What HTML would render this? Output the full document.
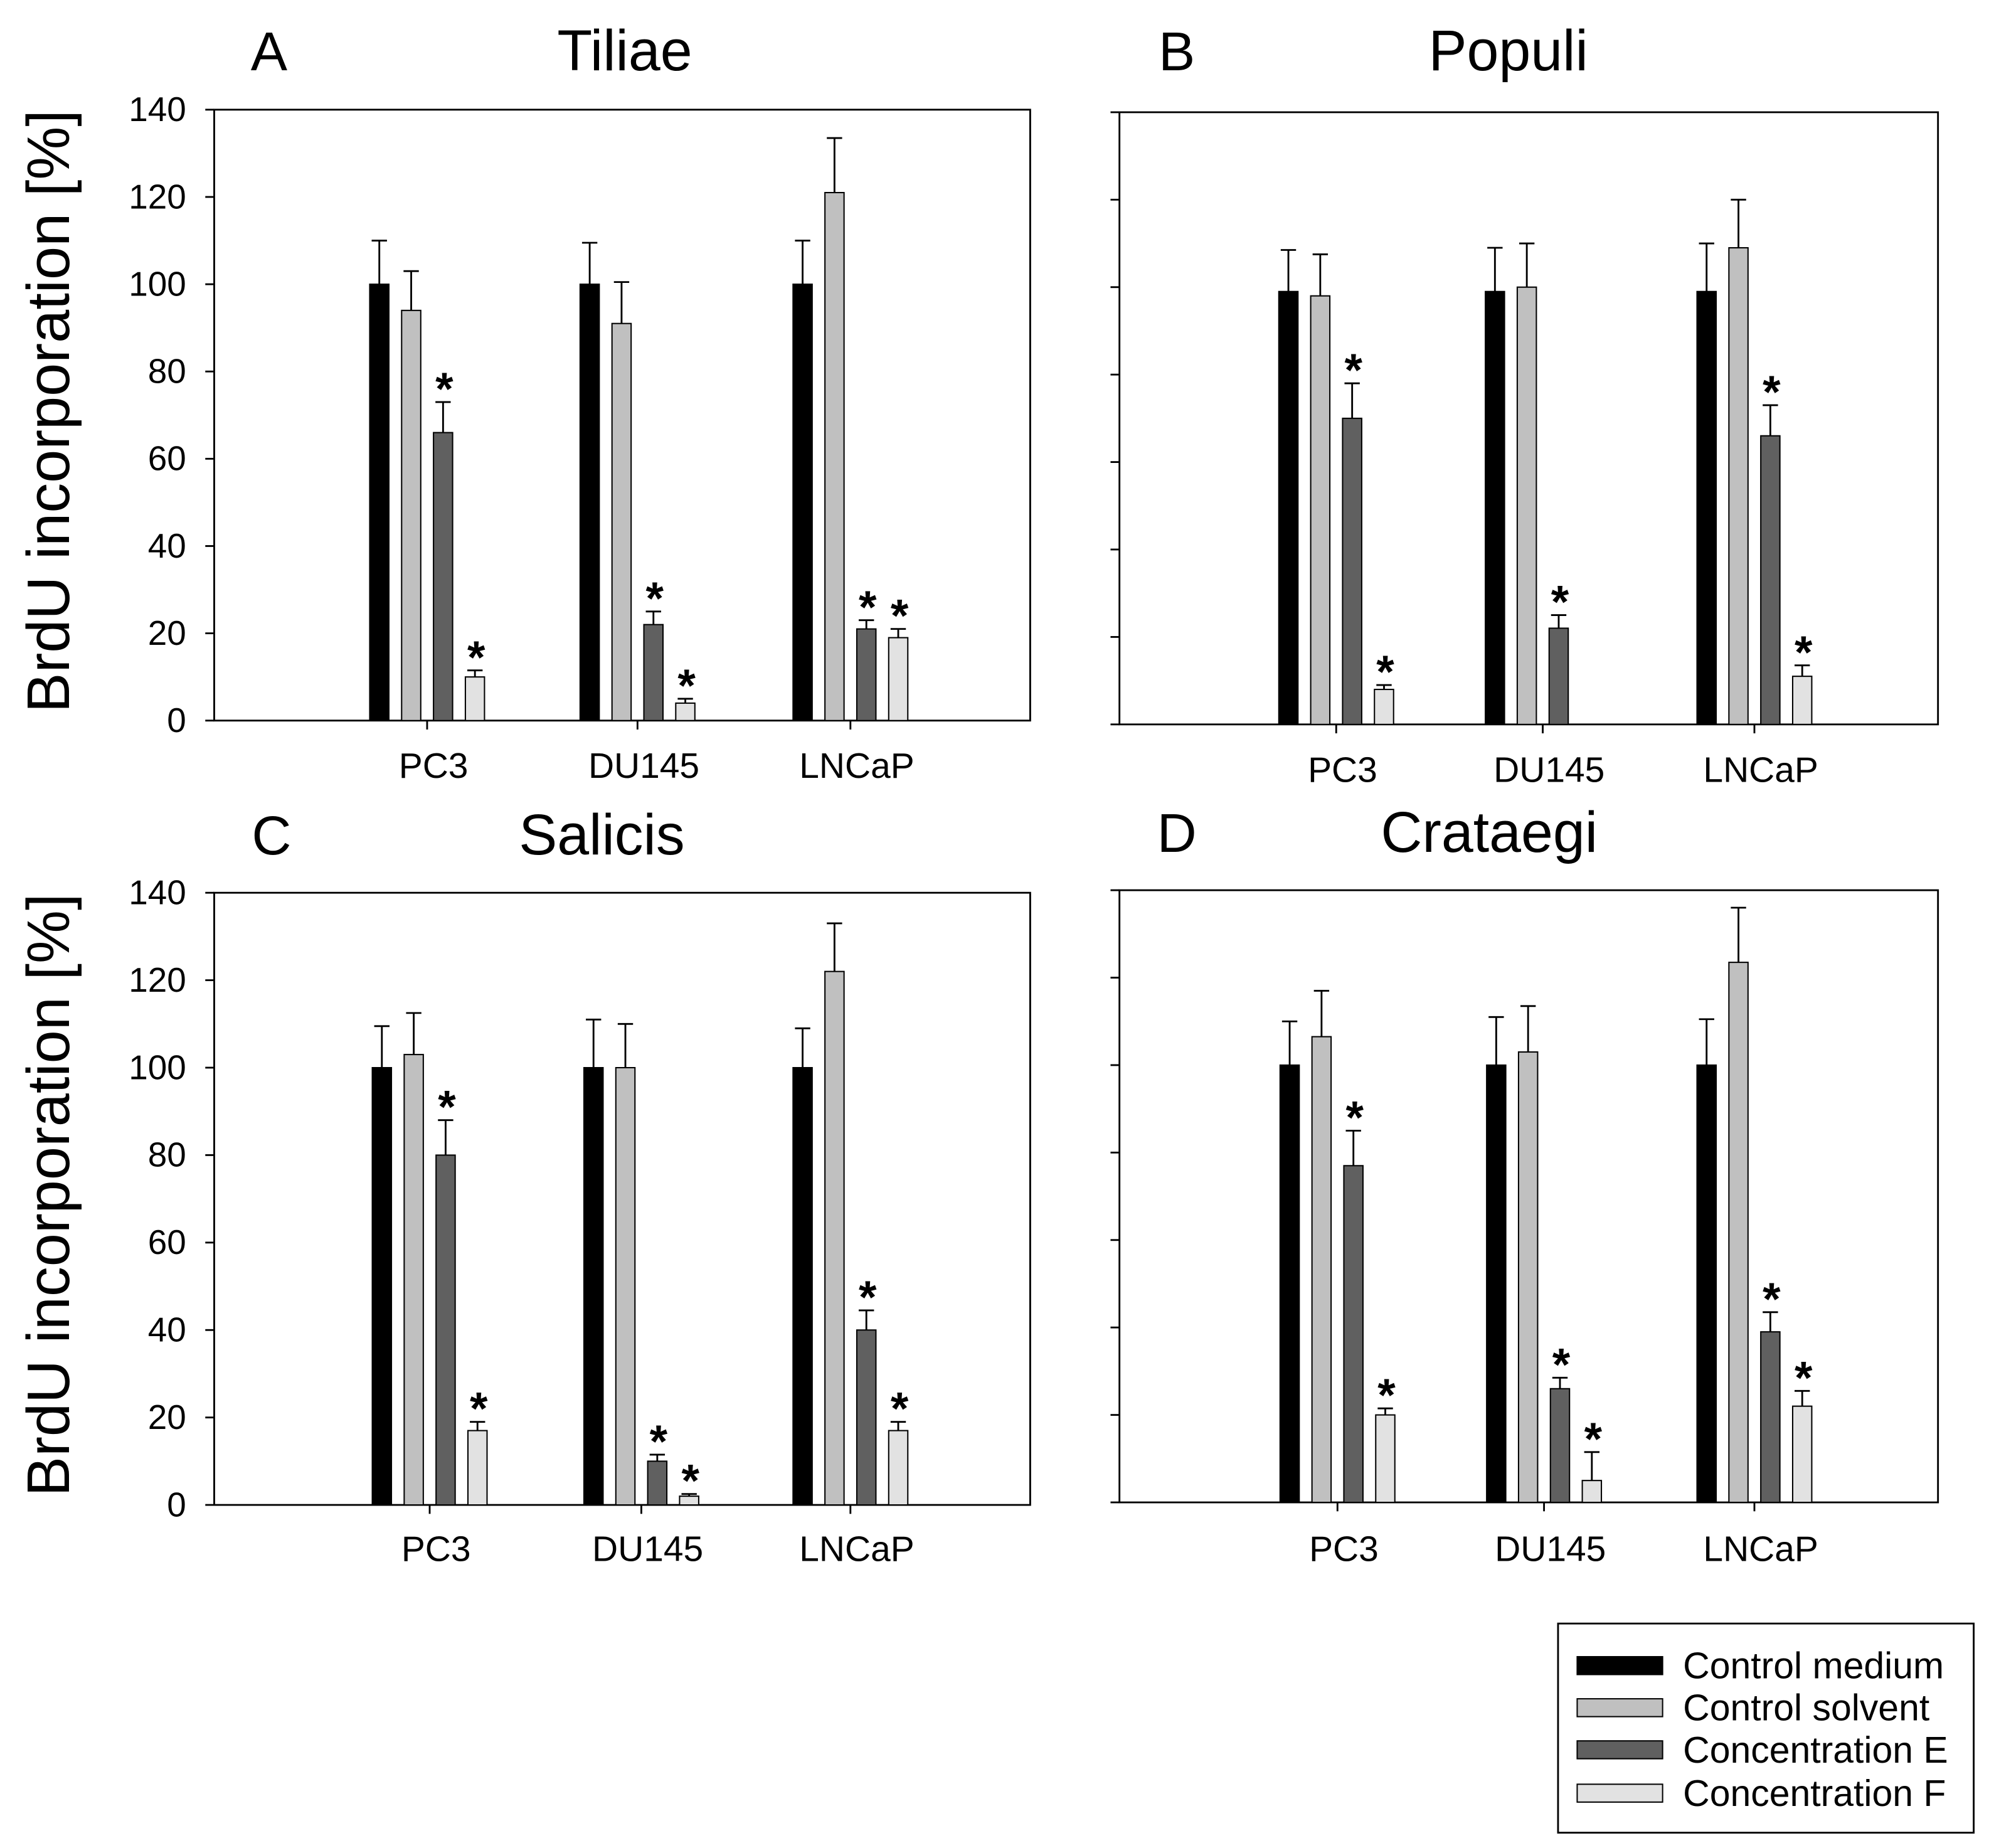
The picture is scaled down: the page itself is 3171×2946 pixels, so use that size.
<!DOCTYPE html>
<html><head><meta charset="utf-8">
<style>
html,body{margin:0;padding:0;background:#fff;}
svg{display:block;}
text{font-family:"Liberation Sans",Arial,sans-serif;fill:#000;}
</style></head>
<body>
<svg id="fig" width="3171" height="2946" viewBox="0 0 1560 1449" preserveAspectRatio="none" xmlns="http://www.w3.org/2000/svg"></svg>
<script>
const categories = ["PC3","DU145","LNCaP"];
const seriesNames = ["Control medium","Control solvent","Concentration E","Concentration F"];
const seriesColors = ["#000000","#c0c0c0","#606060","#e2e2e2"];
const yTicks = [0,20,40,60,80,100,120,140];
// Panel A Tiliae
const aMeans = [[100,94,66,10],[100,91,22,4],[100,121,21,19]];
const aErrs  = [[10,9,7,1.5],[9.5,9.5,3,1],[10,12.5,2,2]];
const aStars = [[0,0,1,1],[0,0,1,1],[0,0,1,1]];
// Panel B Populi
const bMeans = [[99,98,70,8],[99,100,22,0],[99,109,66,11]];
const bErrs  = [[9.5,9.5,8,1],[10,10,3,0],[11,11,7,2.5]];
const bStars = [[0,0,1,1],[0,0,1,0],[0,0,1,1]];
// Panel C Salicis
const cMeans = [[100,103,80,17],[100,100,10,2],[100,122,40,17]];
const cErrs  = [[9.5,9.5,8,2],[11,10,1.5,0.5],[9,11,4.5,2]];
const cStars = [[0,0,1,1],[0,0,1,1],[0,0,1,1]];
// Panel D Crataegi
const dMeans = [[100,106.5,77,20],[100,103,26,5],[100,123.5,39,22]];
const dErrs  = [[10,10.5,8,1.5],[11,10.5,2.5,6.5],[10.5,12.5,4.5,3.5]];
const dStars = [[0,0,1,1],[0,0,1,1],[0,0,1,1]];

const NS="http://www.w3.org/2000/svg";
const svg=document.getElementById('fig');
function mk(tag,attrs,parent){const e=document.createElementNS(NS,tag);for(const k in attrs)e.setAttribute(k,attrs[k]);(parent||svg).appendChild(e);return e;}

const panels=[
 {letter:"A",title:"Tiliae",x0:168,x1:808,y0:86,y1:565,centers:[335,500,667],labels:true,means:aMeans,errs:aErrs,stars:aStars,lx:211,tx:490,ty:55,catY:610},
 {letter:"B",title:"Populi",x0:878,x1:1520,y0:88,y1:568,centers:[1048,1210,1376],labels:false,means:bMeans,errs:bErrs,stars:bStars,lx:923,tx:1183,ty:55,catY:613},
 {letter:"C",title:"Salicis",x0:168,x1:808,y0:700,y1:1180,centers:[337,503,667],labels:true,means:cMeans,errs:cErrs,stars:cStars,lx:213,tx:472,ty:670,catY:1224},
 {letter:"D",title:"Crataegi",x0:878,x1:1520,y0:698,y1:1178,centers:[1049,1211,1376],labels:false,means:dMeans,errs:dErrs,stars:dStars,lx:923,tx:1168,ty:668,catY:1224}
];
const offs=[-37.5,-12.5,12.5,37.5];
const bw=15;

panels.forEach((p,pi)=>{
  const g=mk('g',{});
  
  
  const yScale=v=>p.y1-(v/140)*(p.y1-p.y0);
  const lt=mk('text',{x:p.lx,y:p.ty,'font-size':43,'text-anchor':'middle'},g);lt.textContent=p.letter;
  
  
  const tt=mk('text',{x:p.tx,y:p.ty,'font-size':45,'text-anchor':'middle'},g);tt.textContent=p.title;
  
  
  const fr=mk('rect',{x:p.x0,y:p.y0,width:p.x1-p.x0,height:p.y1-p.y0,fill:'none',stroke:'#000','stroke-width':1.4},g);
  
  
  yTicks.forEach(t=>{
    const y=yScale(t);
    const tk=mk('line',{x1:p.x0-7,x2:p.x0,y1:y,y2:y,stroke:'#000','stroke-width':1.4},g);
    
    
    if(p.labels){
      const tl=mk('text',{x:p.x0-22,y:y+9,'font-size':27,'text-anchor':'end'},g);tl.textContent=t;
      
      
    }
  });
  if(p.labels){
    const cy=(p.y0+p.y1)/2-3;
    const yt=mk('text',{x:0,y:0,'font-size':47,'text-anchor':'middle',transform:`translate(54,${cy}) rotate(-90)`},g);
    yt.textContent='BrdU incorporation [%]';
    
    
  }
  categories.forEach((c,ci)=>{
    const cx=p.centers[ci];
    const xt=mk('line',{x1:cx,x2:cx,y1:p.y1,y2:p.y1+7,stroke:'#000','stroke-width':1.4},g);
    
    
    const xl=mk('text',{x:cx+5,y:p.catY,'font-size':28,'text-anchor':'middle'},g);xl.textContent=c;
    
    
    for(let s=0;s<4;s++){
      const v=p.means[ci][s];
      if(v<=0) continue;
      const bx=cx+offs[s]-bw/2;
      const top=yScale(v);
      const bar=mk('rect',{x:bx,y:top,width:bw,height:p.y1-top,fill:seriesColors[s],stroke:'#000','stroke-width':1},g);
      
      
      const e=p.errs[ci][s];
      const ey=yScale(v+e);
      const mid=cx+offs[s];
      const el=mk('path',{d:`M${mid},${top} V${ey} M${mid-6},${ey} H${mid+6}`,stroke:'#000','stroke-width':1.4,fill:'none'},g);
      
      
      if(p.stars[ci][s]){
        const st=mk('text',{x:mid+1,y:ey+2,'font-size':36,'font-weight':'bold','text-anchor':'middle'},g);st.textContent='*';
        
        
      }
    }
  });
});

// legend
const lg=mk('g',{});


const lb=mk('rect',{x:1222,y:1273,width:326,height:164,fill:'#fff',stroke:'#000','stroke-width':1.4},lg);


const legendY=[1306,1339,1372,1406];
seriesNames.forEach((n,i)=>{
  const sw=mk('rect',{x:1237,y:legendY[i]-7,width:67,height:14,fill:seriesColors[i],stroke:'#000','stroke-width':1},lg);
  
  
  const t=mk('text',{x:1320,y:legendY[i]+10,'font-size':29},lg);t.textContent=n;
  
  
});
</script>
</body></html>
